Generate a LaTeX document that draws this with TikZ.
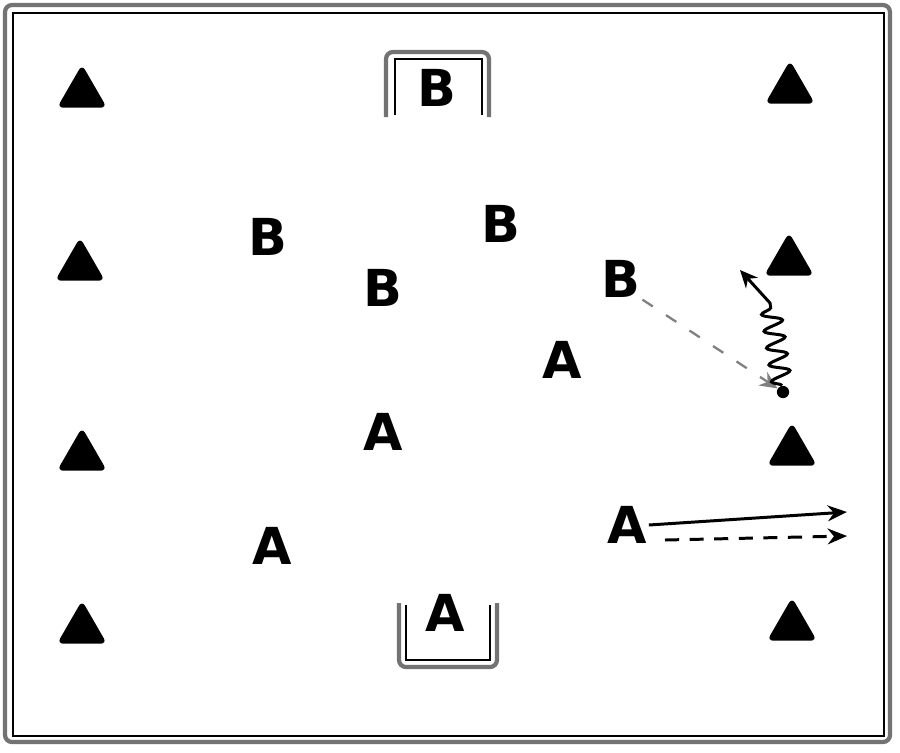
\documentclass[tikz,border=0pt]{standalone}
\usepackage{fontspec}
\setsansfont{DejaVu Sans}
\usetikzlibrary{positioning,shapes.geometric,arrows.meta,decorations.pathmorphing}

\tikzset{
  cone/.style={regular polygon, regular polygon sides=3, anchor=south,
    fill=black, minimum size=1.15cm, inner sep=0pt, rounded corners=3.5pt},
  player/.style={font=\sffamily\bfseries\fontsize{29}{29}\selectfont, inner sep=1pt},
  border/.style={draw=black!55, line width=2.4pt, rounded corners=4pt},
  net/.style={draw=black, line width=0.6pt},
  dot/.style={circle, fill=black, minimum size=7pt, inner sep=0pt},
  pass/.style={draw=black!50, line width=1.3pt, dash pattern=on 7pt off 9pt, -{Stealth[length=10pt,width=9pt]}},
  dribble/.style={line width=1.7pt, -{Stealth[length=10pt,width=9pt]},
    decoration={snake, segment length=0.34cm, amplitude=0.2cm}},
  run/.style={line width=1.7pt, -{Stealth[length=11pt,width=9pt]}},
}

\begin{document}
\begin{tikzpicture}[x=0.02cm, y=-0.02cm]
  \useasboundingbox (0,0) rectangle (900,752);

  % field
  \draw[border] (5,5) rectangle (890,742);
  \draw[net] (13,13) rectangle (884,736);

  % goals
  \draw[border] (386,117) -- (386,52) -- (489,52) -- (489,117);
  \draw[net] (395,115) -- (395,59) -- (482,59) -- (482,115);
  \draw[border] (399,603) -- (399,667) -- (497,667) -- (497,603);
  \draw[net] (406,605) -- (406,660) -- (490,660) -- (490,605);

  % cones
  \node[cone] (cl1) at (82,108) {};
  \node[cone] (cl2) at (80,281) {};
  \node[cone] (cl3) at (82,471) {};
  \node[cone] (cl4) at (82,644) {};
  \node[cone] (cr1) at (790,104) {};
  \node[cone] (cr2) at (789,276) {};
  \node[cone] (cr3) at (792,466) {};
  \node[cone] (cr4) at (792,641) {};

  % players
  \node[player] (gB) at (437,88) {B};
  \node[player] (b1) at (268,237) {B};
  \node[player] (b2) at (501,224) {B};
  \node[player] (b3) at (383,288) {B};
  \node[player] (b4) at (621,279) {B};
  \node[player] (a1) at (562,360) {A};
  \node[player] (a2) at (383,432) {A};
  \node[player] (a3) at (272,546) {A};
  \node[player] (a4) at (627,525) {A};
  \node[player] (gA) at (445,613) {A};

  \node[dot] (turn) at (783,392) {};
  \coordinate (bend) at (770,303);
  \coordinate (tip) at (740,270);
  \coordinate (end1) at (847,512);
  \coordinate (start2) at (665,540);
  \coordinate (end2) at (847,536);

  \draw[pass] (b4.south east) -- (turn);
  \draw[dribble] (turn) decorate {-- (bend)} -- (tip);
  \draw[run] (a4.east) -- (end1);
  \draw[run, dash pattern=on 8pt off 6pt] (start2) -- (end2);

\end{tikzpicture}
\end{document}
